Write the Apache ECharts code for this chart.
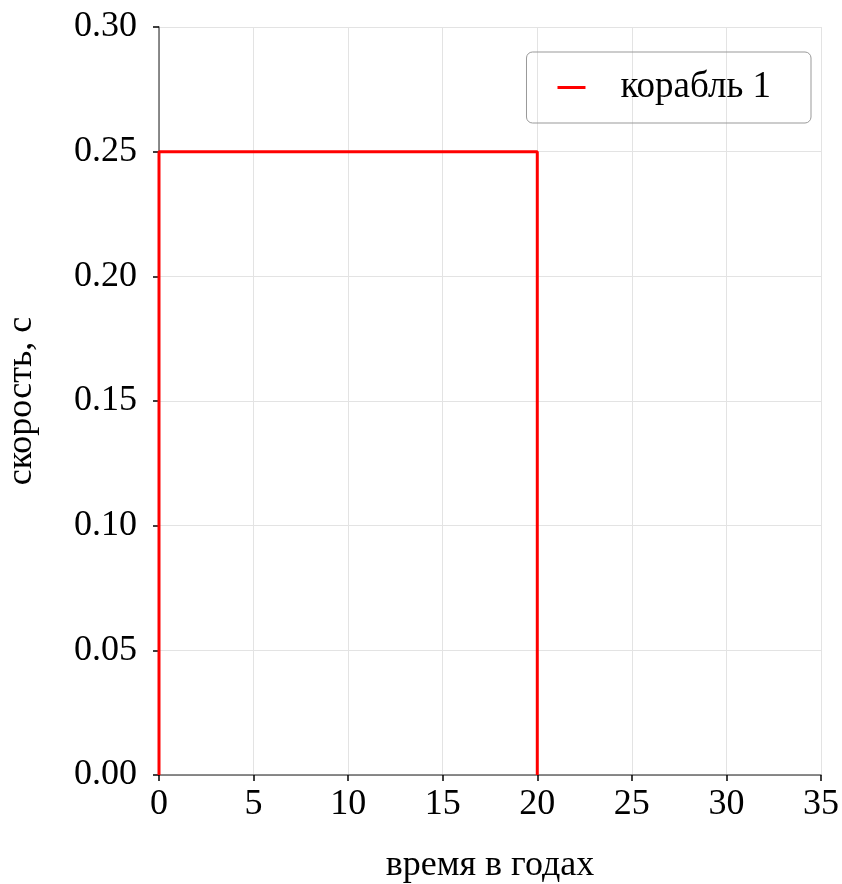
<!DOCTYPE html>
<html lang="ru">
<head>
    <meta charset="UTF-8">
    <title>корабль 1</title>
    <script src="https://cdn.jsdelivr.net/npm/echarts@6/dist/echarts.min.js"></script>
    <style>
        * { margin: 0; padding: 0; box-sizing: border-box; }
        body { background: #fff; }
        #chart { width: 842px; height: 884px; }
    </style>
</head>
<body>
    <div id="chart"></div>
    <script>
        // данные: время (годы) и скорость (доля c)
        const timeYears = [0, 0, 20, 20];
        const speedC = [0, 0.25, 0.25, 0];
        const seriesName = 'корабль 1';
        const xTicks = [0, 5, 10, 15, 20, 25, 30, 35];
        const yTicks = [0, 0.05, 0.10, 0.15, 0.20, 0.25, 0.30];

        const font = '"Liberation Serif", "DejaVu Serif", serif';
        const chart = echarts.init(document.getElementById('chart'));

        chart.setOption({
            animation: false,
            textStyle: { fontFamily: font },
            grid: { left: 159, right: 21, top: 27, bottom: 109, outerBoundsMode: 'none', containLabel: false },
            legend: {
                data: [seriesName],
                right: 31,
                top: 52,
                padding: [17, 40, 17, 31],
                itemWidth: 28,
                itemHeight: 3,
                itemGap: 0,
                icon: 'path://M0,0 L28,0 L28,3 L0,3 Z',
                borderColor: '#999',
                borderWidth: 1,
                borderRadius: 6,
                textStyle: { fontFamily: font, fontSize: 37, color: '#000', padding: [0, 0, 0, 30] }
            },
            xAxis: {
                type: 'value',
                min: xTicks[0],
                max: xTicks[xTicks.length - 1],
                interval: 5,
                name: 'время в годах',
                nameLocation: 'middle',
                nameGap: 73,
                nameTextStyle: { fontFamily: font, fontSize: 36, color: '#000' },
                axisLine: { show: true, lineStyle: { color: '#666', width: 1.5 } },
                axisTick: { show: true, length: 6, lineStyle: { color: '#000', width: 1.5 } },
                axisLabel: { fontFamily: font, fontSize: 36, color: '#000', margin: 12 },
                splitLine: { show: true, lineStyle: { color: '#e3e3e3', width: 1 } }
            },
            yAxis: {
                type: 'value',
                min: yTicks[0],
                max: yTicks[yTicks.length - 1],
                interval: 0.05,
                name: 'скорость, с',
                nameLocation: 'middle',
                nameGap: 119,
                nameTextStyle: { fontFamily: font, fontSize: 36, color: '#000' },
                axisLine: { show: true, lineStyle: { color: '#666', width: 1.5 } },
                axisTick: { show: true, length: 6, lineStyle: { color: '#000', width: 1.5 } },
                axisLabel: {
                    fontFamily: font, fontSize: 36, color: '#000', margin: 22,
                    formatter: v => v.toFixed(2)
                },
                splitLine: { show: true, lineStyle: { color: '#e3e3e3', width: 1 } }
            },
            series: [{
                name: seriesName,
                type: 'line',
                data: timeYears.map((t, i) => [t, speedC[i]]),
                showSymbol: false,
                color: '#ff0000',
                lineStyle: { color: '#ff0000', width: 3 },
                z: 5
            }]
        });
    </script>
</body>
</html>
